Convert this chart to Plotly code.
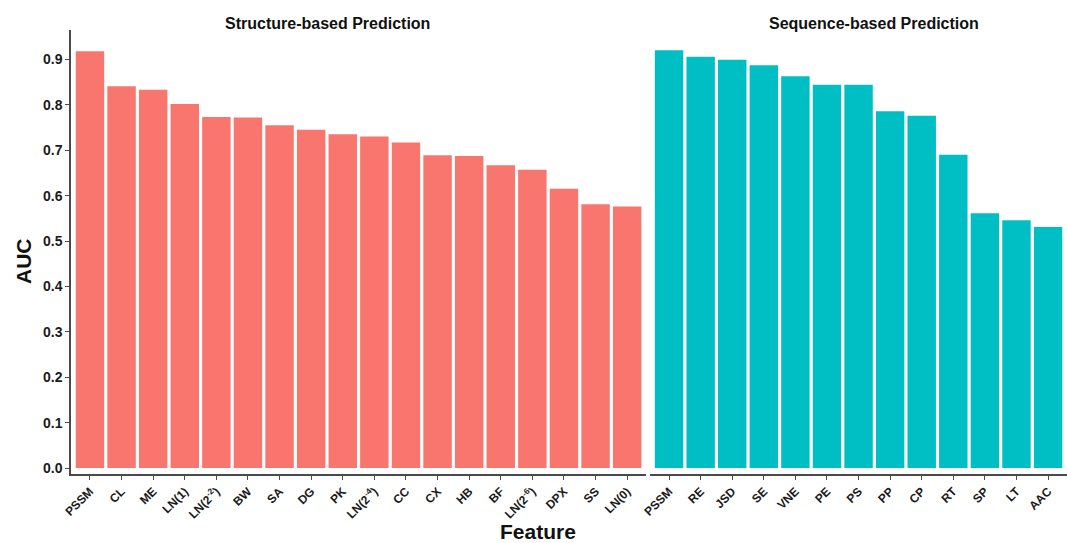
import plotly.graph_objects as go

# AUC per feature, structure-based models
struct_features = ["PSSM", "CL", "ME", "LN(1)", "LN(2<sup>-2</sup>)", "BW", "SA", "DG", "PK",
                   "LN(2<sup>-4</sup>)", "CC", "CX", "HB", "BF", "LN(2<sup>-6</sup>)", "DPX", "SS", "LN(0)"]
struct_auc = [0.918, 0.841, 0.833, 0.802, 0.773, 0.772, 0.755, 0.745, 0.735,
              0.730, 0.717, 0.689, 0.687, 0.667, 0.657, 0.615, 0.581, 0.576]

# AUC per feature, sequence-based models
seq_features = ["PSSM", "RE", "JSD", "SE", "VNE", "PE", "PS", "PP", "CP", "RT", "SP", "LT", "AAC"]
seq_auc = [0.920, 0.906, 0.899, 0.887, 0.863, 0.844, 0.844, 0.786, 0.776, 0.690, 0.561, 0.546, 0.531]

y_ticks = [0.0, 0.1, 0.2, 0.3, 0.4, 0.5, 0.6, 0.7, 0.8, 0.9]

W, H = 1067, 543
L, R, T, B = 71, 0, 30, 69
pw = W - L - R
ph = H - T - B

FONT = "Liberation Sans, Arial, Helvetica, sans-serif"
AXIS_COL = "#4a4a4a"
unit = 31.6  # pixels per category slot

fig = go.Figure()
fig.add_trace(go.Bar(x=struct_features, y=struct_auc, marker_color="#F8766D",
                     marker_line_width=0, xaxis="x", yaxis="y", showlegend=False))
fig.add_trace(go.Bar(x=seq_features, y=seq_auc, marker_color="#00BFC4",
                     marker_line_width=0, xaxis="x2", yaxis="y2", showlegend=False))

left_w = (len(struct_features) + 0.2) * unit
right_w = (len(seq_features) + 0.2) * unit
gap = 4

xaxis_common = dict(
    type="category", showline=True, linecolor=AXIS_COL, linewidth=1.5,
    ticks="outside", ticklen=4, tickcolor=AXIS_COL, tickwidth=1.2,
    tickangle=-45, tickfont=dict(family=FONT, size=12, color="#1a1a1a", weight="bold"),
    showgrid=False, zeroline=False,
)

yrange = [-0.0132, 0.9648]

fig.update_layout(
    width=W, height=H,
    margin=dict(l=L, r=R, t=T, b=B),
    plot_bgcolor="white", paper_bgcolor="white",
    bargap=0.1,
    font=dict(family=FONT, color="#1a1a1a"),
    xaxis=dict(domain=[0, left_w / pw], range=[-0.6, len(struct_features) - 0.4], **xaxis_common),
    xaxis2=dict(domain=[(left_w + gap) / pw, 1], range=[-0.6, len(seq_features) - 0.4], **xaxis_common),
    yaxis=dict(range=yrange, tickvals=y_ticks, tickformat=".1f", showline=True,
               linecolor=AXIS_COL, linewidth=1.5, ticks="outside", ticklen=4,
               tickcolor=AXIS_COL, tickwidth=1.2, showgrid=False, zeroline=False,
               tickfont=dict(family=FONT, size=14, color="#1a1a1a", weight="bold")),
    yaxis2=dict(range=yrange, anchor="x2", showticklabels=False, showline=False,
                ticks="", showgrid=False, zeroline=False),
)

def px_x(x):
    return (x - L) / pw

def px_y(y):
    return (H - B - y) / ph

annotations = [
    dict(text="<b>Structure-based Prediction</b>", x=px_x(327), y=px_y(23.5), font=dict(size=16)),
    dict(text="<b>Sequence-based Prediction</b>", x=px_x(874), y=px_y(23.5), font=dict(size=16)),
    dict(text="<b>Feature</b>", x=px_x(538), y=px_y(531), font=dict(size=21)),
    dict(text="<b>AUC</b>", x=px_x(23), y=px_y(261), font=dict(size=21), textangle=-90),
]
for a in annotations:
    a.update(xref="paper", yref="paper", showarrow=False, xanchor="center", yanchor="middle")
    a["font"].update(family=FONT, color="#111111")
fig.update_layout(annotations=annotations)

fig.write_html("out.html")
